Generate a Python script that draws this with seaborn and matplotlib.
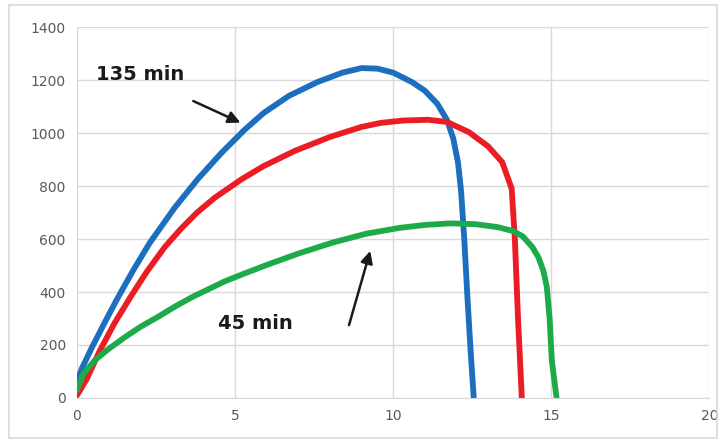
import numpy as np
import pandas as pd
import matplotlib.pyplot as plt
import seaborn as sns
from matplotlib.patches import Rectangle

# curve values
blue_x = [0, 0.15, 0.47, 0.9, 1.3, 1.77, 2.3, 3.09, 3.82, 4.57, 5.3, 5.9, 6.7, 7.6, 8.4, 9.0, 9.5, 10.0, 10.6, 11.0, 11.4, 11.7, 11.9, 12.05, 12.15, 12.25, 12.35, 12.45, 12.55]
blue_y = [60, 110, 190, 290, 380, 480, 585, 718, 826, 925, 1012, 1075, 1140, 1192, 1228, 1245, 1243, 1228, 1192, 1160, 1110, 1050, 980, 890, 780, 600, 380, 180, 0]

red_x = [0, 0.3, 0.73, 1.2, 1.74, 2.2, 2.78, 3.3, 3.8, 4.35, 5.2, 5.9, 6.9, 8.0, 9.0, 9.6, 10.3, 11.1, 11.7, 12.4, 13.0, 13.45, 13.75, 13.85, 13.95, 14.07]
red_y = [10, 70, 180, 285, 390, 475, 570, 640, 700, 755, 825, 875, 933, 985, 1023, 1038, 1047, 1050, 1042, 1003, 950, 890, 790, 600, 300, 0]

green_x = [0, 0.2, 0.57, 1.0, 1.5, 2.0, 2.56, 3.1, 3.63, 4.67, 5.3, 6.0, 7.0, 8.1, 9.15, 10.2, 11.0, 11.8, 12.6, 13.3, 13.8, 14.1, 14.4, 14.6, 14.75, 14.86, 14.95, 15.02, 15.17]
green_y = [30, 90, 143, 185, 228, 268, 306, 345, 380, 440, 470, 502, 545, 587, 620, 642, 653, 659, 656, 645, 630, 610, 570, 530, 480, 420, 300, 140, 0]

x_ticks = [0, 5, 10, 15, 20]
y_ticks = [0, 200, 400, 600, 800, 1000, 1200, 1400]

frames = []
for name, xs, ys in [("135 min", blue_x, blue_y), ("90 min", red_x, red_y), ("45 min", green_x, green_y)]:
    frames.append(pd.DataFrame({"x": xs, "y": ys, "serie": name}))
df = pd.concat(frames, ignore_index=True)

sns.set_style("whitegrid")
fig = plt.figure(figsize=(7.26, 4.43), dpi=100)
ax = fig.add_axes([0.106, 0.1016, 0.871, 0.8374])

sns.lineplot(data=df, x="x", y="y", hue="serie", sort=False, estimator=None,
             palette={"135 min": "#1C6EBF", "90 min": "#EC1C24", "45 min": "#1DAA4B"},
             linewidth=4.2, legend=False, ax=ax)

ax.set_xlim(0, 20)
ax.set_ylim(0, 1400)
ax.set_xticks(x_ticks)
ax.set_yticks(y_ticks)
ax.set_xlabel("")
ax.set_ylabel("")
ax.grid(True, color="#d9d9d9", linewidth=1)
for s in ["top", "right", "left"]:
    ax.spines[s].set_visible(False)
ax.spines["bottom"].set_color("#d9d9d9")
ax.tick_params(axis="both", colors="#595959", labelsize=10, length=0, pad=8)

ax.text(0.6, 1220, "135 min", fontsize=14, fontweight="bold", color="#1a1a1a", va="center")
ax.annotate("", xy=(5.25, 1035), xytext=(3.6, 1125),
            arrowprops=dict(arrowstyle="-|>", color="#1a1a1a", lw=1.8, mutation_scale=18))
ax.text(4.45, 280, "45 min", fontsize=14, fontweight="bold", color="#1a1a1a", va="center")
ax.annotate("", xy=(9.3, 565), xytext=(8.58, 265),
            arrowprops=dict(arrowstyle="-|>", color="#1a1a1a", lw=1.8, mutation_scale=18))

fig.patches.append(Rectangle((0.012, 0.012), 0.976, 0.976, transform=fig.transFigure,
                             fill=False, edgecolor="#d9d9d9", linewidth=1.2))

plt.savefig("out.png", dpi=100)
